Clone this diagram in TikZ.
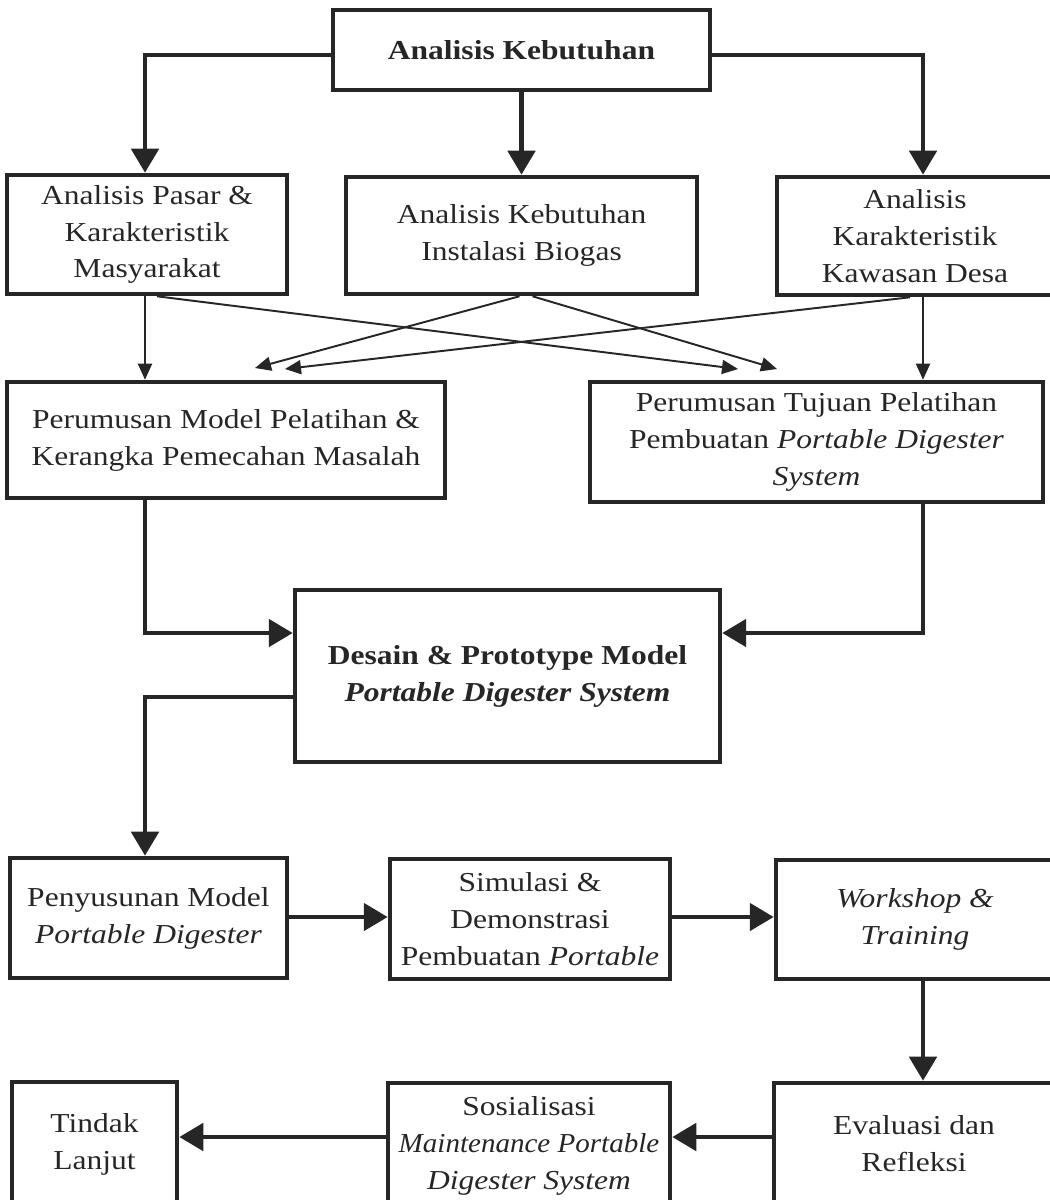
\documentclass[tikz,border=0pt]{standalone}
\usepackage{fontspec}
\setmainfont{Liberation Serif}[FakeStretch=1.15]
\usetikzlibrary{arrows.meta,calc}
\definecolor{ink}{RGB}{38,38,38}
\begin{document}
\begin{tikzpicture}[x=0.02cm,y=-0.02cm,
  box/.style={draw=ink,line width=2.6pt,align=center,inner sep=0pt,
    font=\fontsize{15.6pt}{21pt}\selectfont,text=ink},
  thk/.style={draw=ink,line width=2.8pt,-{Triangle[length=0.48cm,width=0.54cm]}},
  thn/.style={draw=ink,line width=1.1pt,-{Triangle[length=0.32cm,width=0.28cm]}}]
\useasboundingbox (0,0) rectangle (1050,1200);
\clip (0,0) rectangle (1050,1200);
\fill[white] (0,0) rectangle (1050,1200);
% helper coordinates
\coordinate (xL) at (145,0);
\coordinate (xR) at (923,0);
\coordinate (yT) at (0,55);
\coordinate (yDF) at (0,633);
\coordinate (yFG) at (0,697);
\coordinate (y4) at (0,917);
\coordinate (y5) at (0,1137);
% nodes
\node[box,minimum width=7.54cm,minimum height=1.6cm] (T) at (521.5,50) {\textbf{Analisis Kebutuhan}};
\node[box,minimum width=5.6cm,minimum height=2.38cm] (A) at (147,234.5) {\raisebox{-3pt}{\parbox{5.4cm}{\centering Analisis Pasar \&\\Karakteristik\\Masyarakat}}};
\node[box,minimum width=7.02cm,minimum height=2.34cm] (B) at (521.5,235.5) {Analisis Kebutuhan\\Instalasi Biogas};
\node[box,minimum width=5.52cm,minimum height=2.36cm] (C) at (915,236) {\raisebox{-3pt}{\parbox{5.3cm}{\centering Analisis\\Karakteristik\\Kawasan Desa}}};
\node[box,minimum width=8.76cm,minimum height=2.32cm] (D) at (226,440) {Perumusan Model Pelatihan \&\\Kerangka Pemecahan Masalah};
\node[box,minimum width=9.06cm,minimum height=2.4cm] (E) at (816.5,442) {Perumusan Tujuan Pelatihan\\Pembuatan \textit{Portable Digester}\\\textit{System}};
\node[box,minimum width=8.5cm,minimum height=3.44cm] (F) at (507.5,676) {\textbf{Desain \& Prototype Model}\\\textbf{\textit{Portable Digester System}}};
\node[box,minimum width=5.54cm,minimum height=2.4cm] (G) at (148.5,918) {Penyusunan Model\\\textit{Portable Digester}};
\node[box,minimum width=5.6cm,minimum height=2.4cm] (H) at (530,919) {Simulasi \&\\Demonstrasi\\Pembuatan \textit{Portable}};
\node[box,minimum width=5.56cm,minimum height=2.38cm] (I) at (915,919.5) {\textit{Workshop \&}\\\textit{Training}};
\node[box,minimum width=5.6cm,minimum height=2.44cm] (J) at (914,1144) {Evaluasi dan\\Refleksi};
\node[box,minimum width=5.64cm,minimum height=2.52cm] (K) at (529,1146) {Sosialisasi\\{\addfontfeature{FakeStretch=1.06}\itshape Maintenance Portable}\\\textit{Digester System}};
\node[box,minimum width=3.3cm,minimum height=2.48cm] (L) at (94.5,1144) {Tindak\\Lanjut};
% crossing arrow end points
\coordinate (tBD) at (255,368);
\coordinate (tCD) at (285,369);
\coordinate (tAE) at (738,369);
\coordinate (tBE) at (777,369);
% top connectors
\draw[thk] (T.west |- yT) -| (A.north -| xL);
\draw[thk] (T.south) -- (B.north);
\draw[thk] (T.east |- yT) -| (C.north -| xR);
% thin connectors
\draw[thn] (A.south -| xL) -- (D.north -| xL);
\draw[thn] ($(A.south)+(10,0)$) -- (tAE);
\draw[thn] ($(B.south)+(-2,0)$) -- (tBD);
\draw[thn] ($(B.south)+(11,0)$) -- (tBE);
\draw[thn] ($(C.south)+(-5,0)$) -- (tCD);
\draw[thn] (C.south -| xR) -- (E.north -| xR);
% to design box
\draw[thk] (D.south -| xL) |- (F.west |- yDF);
\draw[thk] (E.south -| xR) |- (F.east |- yDF);
\draw[thk] (F.west |- yFG) -| (G.north -| xL);
% row 4
\draw[thk] (G.east |- y4) -- (H.west |- y4);
\draw[thk] (H.east |- y4) -- (I.west |- y4);
\draw[thk] (I.south -| xR) -- (J.north -| xR);
% row 5
\draw[thk] (J.west |- y5) -- (K.east |- y5);
\draw[thk] (K.west |- y5) -- (L.east |- y5);
\end{tikzpicture}
\end{document}
